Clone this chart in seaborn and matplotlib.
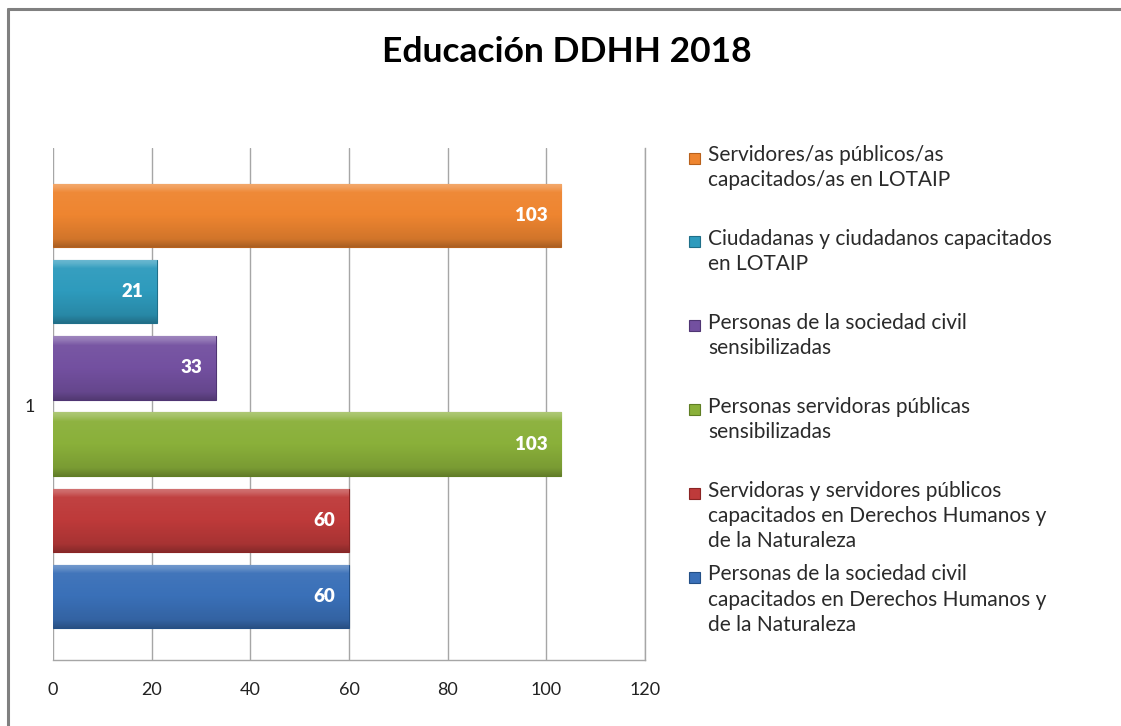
import numpy as np
import pandas as pd
import matplotlib
matplotlib.use('Agg')
import matplotlib.pyplot as plt
import matplotlib.patches as mpatches
import matplotlib.colors as mcolors
import seaborn as sns

# data, top bar first (same order as the legend)
series = [
    'Servidores/as públicos/as\ncapacitados/as en LOTAIP',
    'Ciudadanas y ciudadanos capacitados\nen LOTAIP',
    'Personas de la sociedad civil\nsensibilizadas',
    'Personas servidoras públicas\nsensibilizadas',
    'Servidoras y servidores públicos\ncapacitados en Derechos Humanos y\nde la Naturaleza',
    'Personas de la sociedad civil\ncapacitados en Derechos Humanos y\nde la Naturaleza',
]
values = [103, 21, 33, 103, 60, 60]
colors = ['#EE8530', '#2E9BBD', '#7350A0', '#8AB03A', '#BE3A3A', '#3A70B8']
edge_colors = ['#B8611C', '#1F6F89', '#4F3573', '#5F7E24', '#8A2424', '#234F86']
x_ticks = [0, 20, 40, 60, 80, 100, 120]
category = '1'

sns.set_style('white')
plt.rcParams['font.family'] = ['Lato', 'DejaVu Sans']

df = pd.DataFrame({'serie': series, 'valor': values})

W, H = 1121, 726
fig = plt.figure(figsize=(W / 100, H / 100), dpi=100)
ax = fig.add_axes([0.0473, 0.0909, 0.528, 0.705])

sns.barplot(data=df, x='valor', y='serie', hue='serie', palette=colors,
            order=series, hue_order=series, legend=False, width=0.83,
            dodge=False, saturation=1, ax=ax)


def shade(c, f):
    # f > 0 lightens towards white, f < 0 darkens towards black
    rgb = np.array(mcolors.to_rgb(c))
    return rgb + (1 - rgb) * f if f > 0 else rgb * (1 + f)


# bevel-like vertical gradient clipped to every bar
prof_y = [0.0, 0.06, 0.14, 0.5, 0.88, 1.0]
prof_f = [0.30, 0.22, 0.04, 0.0, -0.12, -0.28]
rows = np.linspace(0, 1, 64)
for patch, c, ec in zip(ax.patches, colors, edge_colors):
    f = np.interp(rows, prof_y, prof_f)
    img = np.array([shade(c, v) for v in f])[:, None, :]
    x0, y0 = patch.get_x(), patch.get_y()
    w, h = patch.get_width(), patch.get_height()
    im = ax.imshow(img, extent=(x0, x0 + w, y0 + h, y0), aspect='auto',
                   origin='upper', zorder=patch.get_zorder(),
                   interpolation='bilinear')
    im.set_clip_path(patch)
    patch.set_edgecolor(ec)
    patch.set_linewidth(0.8)

for patch, v in zip(ax.patches, values):
    y = patch.get_y() + patch.get_height() / 2
    ax.text(v - 2.8, y, str(v), ha='right', va='center', color='white',
            fontsize=13.5, fontweight='heavy', zorder=5)

ax.set_xlim(0, 120)
ax.set_ylim(5.84, -0.89)
ax.set_xticks(x_ticks)
ax.set_xticklabels([str(t) for t in x_ticks], fontsize=13, color='#222222')
ax.set_yticks([2.5])
ax.set_yticklabels([category], fontsize=13, color='#222222')
ax.tick_params(axis='x', length=0, pad=16)
ax.tick_params(axis='y', length=0, pad=13)
ax.set_xlabel('')
ax.set_ylabel('')
ax.xaxis.grid(True, color='#A6A6A6', linewidth=1.0)
ax.set_axisbelow(True)
for side in ['top', 'left']:
    ax.spines[side].set_visible(False)
for side in ['bottom', 'right']:
    ax.spines[side].set_color('#A6A6A6')
    ax.spines[side].set_linewidth(1.0)

# legend, entries evenly spaced like the original chart
leg_top, leg_step = 158, 83.9
for i, (s, c, ec) in enumerate(zip(series, colors, edge_colors)):
    yc = leg_top + i * leg_step
    fig.add_artist(mpatches.Rectangle(
        (689 / W, 1 - (yc + 5.5) / H), 11 / W, 11 / H,
        facecolor=c, edgecolor=ec, linewidth=0.8, transform=fig.transFigure))
    fig.text(708 / W, 1 - (yc - 13) / H, s, ha='left', va='top',
             fontsize=15, linespacing=1.34, color='#2a2a2a')

fig.text(0.506, 0.928, 'Educación DDHH 2018', ha='center', va='center',
         fontsize=25.5, fontweight='bold', color='black')

# chart border (top and left edges)
fig.add_artist(plt.Line2D([8 / W, 1], [1 - 9 / H, 1 - 9 / H],
                          color='#808080', linewidth=2.2,
                          transform=fig.transFigure))
fig.add_artist(plt.Line2D([8 / W, 8 / W], [0, 1 - 9 / H],
                          color='#808080', linewidth=2.2,
                          transform=fig.transFigure))

fig.savefig('out.png', dpi=100, facecolor='white')
